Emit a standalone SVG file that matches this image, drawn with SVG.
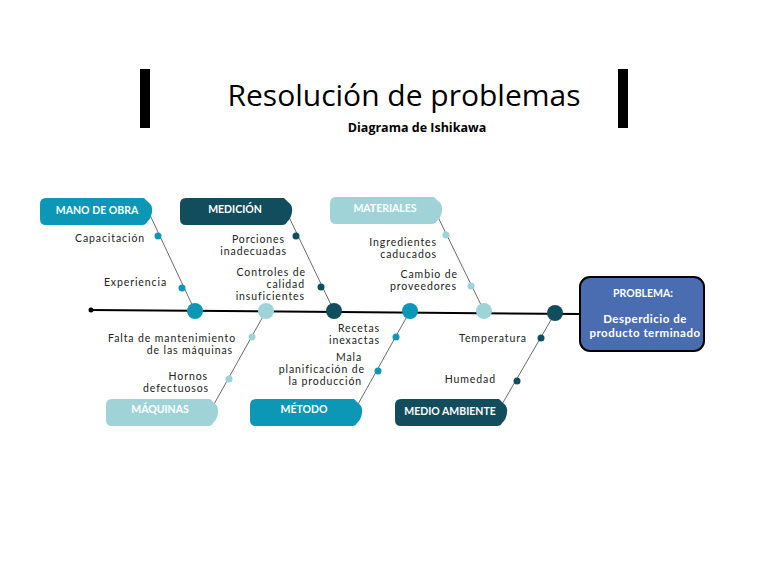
<svg xmlns="http://www.w3.org/2000/svg" width="768" height="575" viewBox="0 0 768 575">
<style>
.lbl{font-family:Lato,"Open Sans",sans-serif;font-size:10.5px;fill:#222;letter-spacing:0.9px;text-anchor:end}
.cat{font-family:Lato,"Open Sans",sans-serif;font-size:10.5px;font-weight:bold;fill:#fff;text-anchor:middle}
.bone{stroke:#444;stroke-width:0.8;fill:none}
.teal{fill:#0b97b5}.dark{fill:#124d5e}.light{fill:#9fd3d7}
</style>
<defs>
<path id="tag" d="M6,0 H104 L108,4 Q113,7 112,14 Q111,21 107,24 Q106,27 102,27 H6 Q0,27 0,21 V6 Q0,0 6,0 Z"/>
</defs>
<rect width="768" height="575" fill="#fff"/>
<rect x="140" y="69" width="10" height="59" fill="#000"/>
<rect x="618" y="69" width="10" height="59" fill="#000"/>
<text x="404" y="106" font-family="'Open Sans',sans-serif" font-size="30" text-anchor="middle" fill="#000">Resolución de problemas</text>
<text x="417" y="132" font-family="'Open Sans',sans-serif" font-size="12.5" font-weight="bold" text-anchor="middle" fill="#000">Diagrama de Ishikawa</text>

<g id="connectors">
<line x1="91" y1="310" x2="580" y2="314" stroke="#000" stroke-width="2"/>
<circle cx="91" cy="310" r="2.5" fill="#000"/>
<line class="bone" x1="150" y1="215" x2="195" y2="311"/>
<line class="bone" x1="288" y1="215" x2="334" y2="311"/>
<line class="bone" x1="437" y1="215" x2="484" y2="311"/>
<line class="bone" x1="213" y1="406" x2="266" y2="311"/>
<line class="bone" x1="357" y1="406" x2="410" y2="311"/>
<line class="bone" x1="501" y1="406" x2="555" y2="313"/>
<circle class="teal" cx="158" cy="236" r="3.5"/>
<circle class="teal" cx="182" cy="288" r="3.5"/>
<circle class="dark" cx="296" cy="236" r="3.5"/>
<circle class="dark" cx="321" cy="287" r="3.5"/>
<circle class="light" cx="446" cy="235" r="3.5"/>
<circle class="light" cx="471" cy="286" r="3.5"/>
<circle class="light" cx="252" cy="337" r="3.5"/>
<circle class="light" cx="229" cy="379" r="3.5"/>
<circle class="teal" cx="396" cy="337" r="3.5"/>
<circle class="teal" cx="378" cy="371" r="3.5"/>
<circle class="dark" cx="541" cy="338" r="3.5"/>
<circle class="dark" cx="517" cy="381" r="3.5"/>
<circle class="teal" cx="195" cy="311" r="8"/>
<circle class="light" cx="266" cy="311" r="8"/>
<circle class="dark" cx="334" cy="311" r="8"/>
<circle class="teal" cx="410" cy="311" r="8"/>
<circle class="light" cx="484" cy="311" r="8"/>
<circle class="dark" cx="555" cy="313" r="8"/>
</g>

<g id="mano-de-obra">
<use href="#tag" x="40" y="198" class="teal"/>
<text class="cat" x="97" y="214">MANO DE OBRA</text>
<text class="lbl" x="145" y="242">Capacitación</text>
<text class="lbl" x="167" y="286">Experiencia</text>
</g>
<g id="medicion">
<use href="#tag" x="180" y="198" class="dark"/>
<text class="cat" x="235" y="213">MEDICIÓN</text>
<text class="lbl" x="285" y="243">Porciones</text>
<text class="lbl" x="287" y="255">inadecuadas</text>
<text class="lbl" x="306" y="276">Controles de</text>
<text class="lbl" x="305" y="288">calidad</text>
<text class="lbl" x="305" y="300">insuficientes</text>
</g>
<g id="materiales">
<use href="#tag" x="330" y="197" class="light"/>
<text class="cat" x="385" y="212">MATERIALES</text>
<text class="lbl" x="437" y="246">Ingredientes</text>
<text class="lbl" x="437" y="258">caducados</text>
<text class="lbl" x="458" y="278">Cambio de</text>
<text class="lbl" x="457" y="290">proveedores</text>
</g>
<g id="maquinas">
<use href="#tag" x="106" y="399" class="light"/>
<text class="cat" x="160" y="413">MÁQUINAS</text>
<text class="lbl" x="236" y="342">Falta de mantenimiento</text>
<text class="lbl" x="233" y="354">de las máquinas</text>
<text class="lbl" x="208" y="380">Hornos</text>
<text class="lbl" x="209" y="392">defectuosos</text>
</g>
<g id="metodo">
<use href="#tag" x="250" y="399" class="teal"/>
<text class="cat" x="304" y="413">MÉTODO</text>
<text class="lbl" x="380" y="332">Recetas</text>
<text class="lbl" x="380" y="344">inexactas</text>
<text class="lbl" x="362" y="361">Mala</text>
<text class="lbl" x="365" y="373">planificación de</text>
<text class="lbl" x="362" y="385">la producción</text>
</g>
<g id="medio-ambiente">
<use href="#tag" x="395" y="399" class="dark"/>
<text class="cat" x="450" y="415">MEDIO AMBIENTE</text>
<text class="lbl" x="527" y="342">Temperatura</text>
<text class="lbl" x="496" y="383">Humedad</text>
</g>
<g id="problema">
<rect x="580" y="277" width="124" height="74" rx="10" fill="#4a6cb0" stroke="#000" stroke-width="2"/>
<text class="cat" x="643" y="297">PROBLEMA:</text>
<text class="cat" x="645" y="323" style="font-size:11.5px;letter-spacing:0.5px">Desperdicio de</text>
<text class="cat" x="645" y="337" style="font-size:11.5px;letter-spacing:0.5px">producto terminado</text>
</g>
</svg>
